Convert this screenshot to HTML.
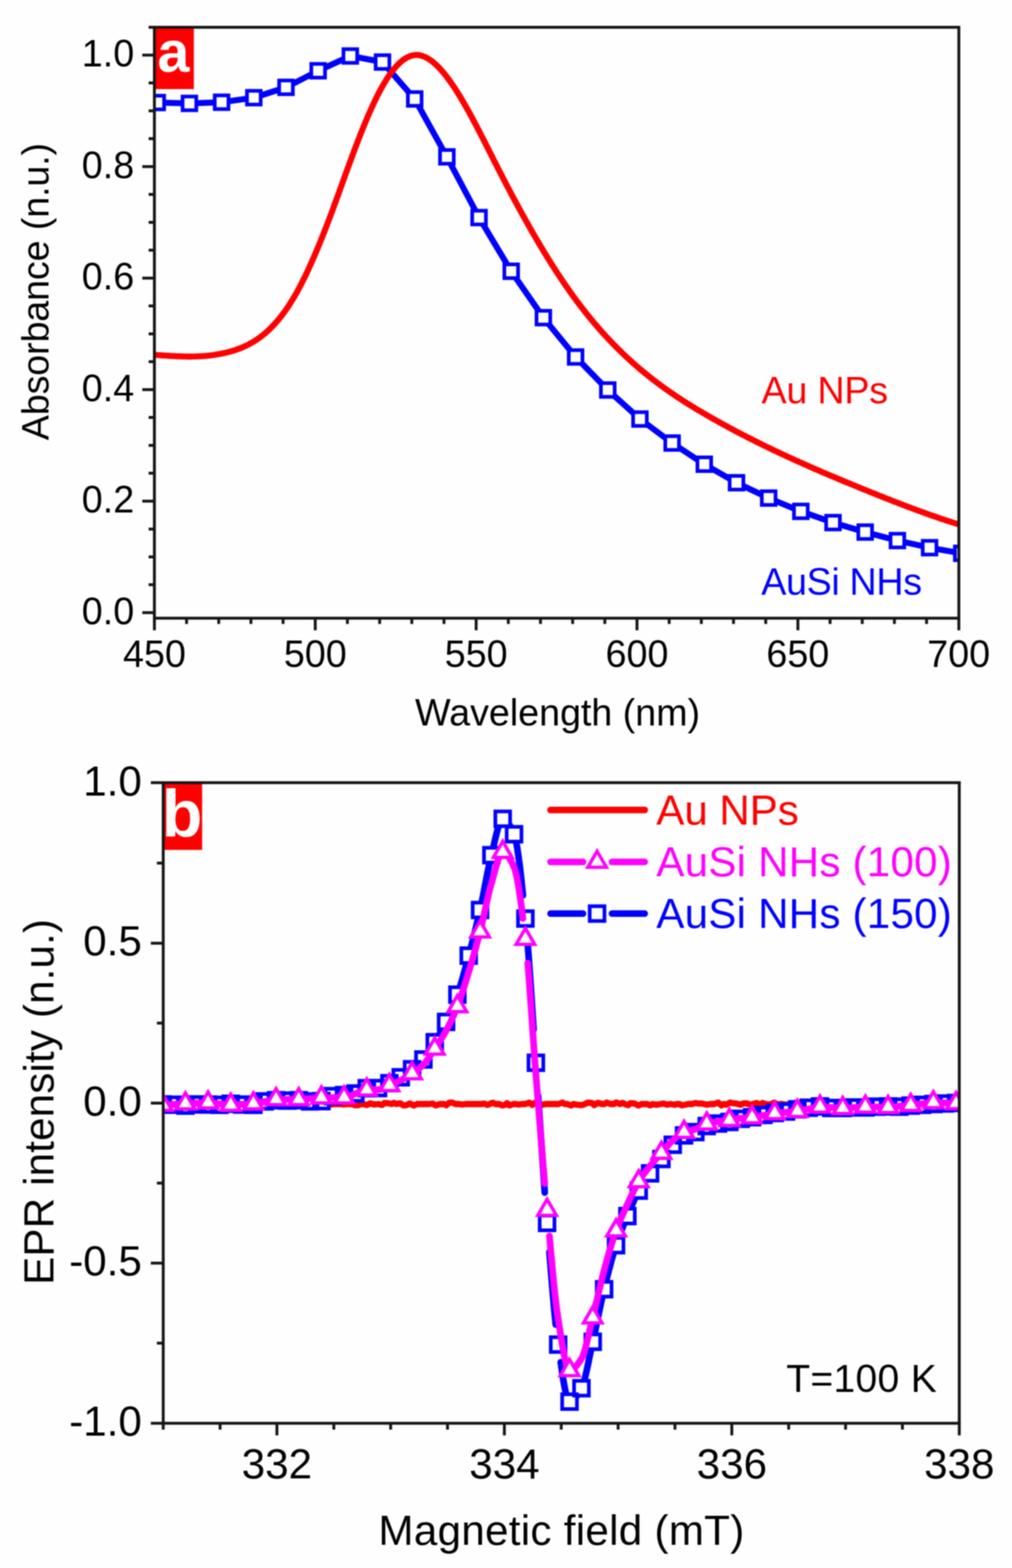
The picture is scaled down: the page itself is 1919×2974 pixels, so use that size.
<!DOCTYPE html>
<html lang="en"><head><meta charset="utf-8"><title>Absorbance and EPR spectra of Au NPs and AuSi NHs</title>
<style>
html,body{margin:0;padding:0;background:#fff;}
body{width:1919px;height:2974px;overflow:hidden;}
svg{display:block;}
svg text{font-family:"Liberation Sans", Arial, Helvetica, sans-serif;}
</style></head><body>
<svg xmlns="http://www.w3.org/2000/svg" width="1919" height="2974" viewBox="0 0 1919 2974">
<defs><filter id="soft" x="0" y="0" width="100%" height="100%" filterUnits="userSpaceOnUse" color-interpolation-filters="sRGB"><feGaussianBlur stdDeviation="1.3"/></filter></defs>
<rect x="0" y="0" width="1919" height="2974" fill="#fefefe"/>
<g filter="url(#soft)">
<defs>
<clipPath id="clipA"><rect x="292.8" y="51.8" width="1525.4" height="1120.8"/></clipPath>
</defs>
<g id="panel-a">
<g clip-path="url(#clipA)" fill="none" stroke-linejoin="round" stroke-linecap="butt">
<path d="M286,194.3 L298.2,194.5 L359.2,196.1 L420.2,193.9 L481.3,185.3 L542.3,165.7 L603.3,134.2 L664.3,106.2 L725.3,117.7 L786.4,187.7 L847.4,297.5 L908.4,412.7 L969.4,514.5 L1030.4,602.5 L1091.5,677.1 L1152.5,739.7 L1213.5,794.8 L1274.5,840.3 L1335.5,880.5 L1396.6,915.6 L1457.6,944.7 L1518.6,969.9 L1579.6,991.2 L1640.6,1009.2 L1701.7,1025.3 L1762.7,1038.8 L1823.7,1049.5" stroke="#0000ff" stroke-width="11.4"/>
<rect x="285.2" y="181.5" width="26.0" height="26.0" fill="#fff" stroke="#0000ff" stroke-width="7.0" stroke-linejoin="miter"/>
<rect x="346.2" y="183.1" width="26.0" height="26.0" fill="#fff" stroke="#0000ff" stroke-width="7.0" stroke-linejoin="miter"/>
<rect x="407.2" y="180.9" width="26.0" height="26.0" fill="#fff" stroke="#0000ff" stroke-width="7.0" stroke-linejoin="miter"/>
<rect x="468.3" y="172.3" width="26.0" height="26.0" fill="#fff" stroke="#0000ff" stroke-width="7.0" stroke-linejoin="miter"/>
<rect x="529.3" y="152.7" width="26.0" height="26.0" fill="#fff" stroke="#0000ff" stroke-width="7.0" stroke-linejoin="miter"/>
<rect x="590.3" y="121.2" width="26.0" height="26.0" fill="#fff" stroke="#0000ff" stroke-width="7.0" stroke-linejoin="miter"/>
<rect x="651.3" y="93.2" width="26.0" height="26.0" fill="#fff" stroke="#0000ff" stroke-width="7.0" stroke-linejoin="miter"/>
<rect x="712.3" y="104.7" width="26.0" height="26.0" fill="#fff" stroke="#0000ff" stroke-width="7.0" stroke-linejoin="miter"/>
<rect x="773.4" y="174.7" width="26.0" height="26.0" fill="#fff" stroke="#0000ff" stroke-width="7.0" stroke-linejoin="miter"/>
<rect x="834.4" y="284.5" width="26.0" height="26.0" fill="#fff" stroke="#0000ff" stroke-width="7.0" stroke-linejoin="miter"/>
<rect x="895.4" y="399.7" width="26.0" height="26.0" fill="#fff" stroke="#0000ff" stroke-width="7.0" stroke-linejoin="miter"/>
<rect x="956.4" y="501.5" width="26.0" height="26.0" fill="#fff" stroke="#0000ff" stroke-width="7.0" stroke-linejoin="miter"/>
<rect x="1017.4" y="589.5" width="26.0" height="26.0" fill="#fff" stroke="#0000ff" stroke-width="7.0" stroke-linejoin="miter"/>
<rect x="1078.5" y="664.1" width="26.0" height="26.0" fill="#fff" stroke="#0000ff" stroke-width="7.0" stroke-linejoin="miter"/>
<rect x="1139.5" y="726.7" width="26.0" height="26.0" fill="#fff" stroke="#0000ff" stroke-width="7.0" stroke-linejoin="miter"/>
<rect x="1200.5" y="781.8" width="26.0" height="26.0" fill="#fff" stroke="#0000ff" stroke-width="7.0" stroke-linejoin="miter"/>
<rect x="1261.5" y="827.3" width="26.0" height="26.0" fill="#fff" stroke="#0000ff" stroke-width="7.0" stroke-linejoin="miter"/>
<rect x="1322.5" y="867.5" width="26.0" height="26.0" fill="#fff" stroke="#0000ff" stroke-width="7.0" stroke-linejoin="miter"/>
<rect x="1383.6" y="902.6" width="26.0" height="26.0" fill="#fff" stroke="#0000ff" stroke-width="7.0" stroke-linejoin="miter"/>
<rect x="1444.6" y="931.7" width="26.0" height="26.0" fill="#fff" stroke="#0000ff" stroke-width="7.0" stroke-linejoin="miter"/>
<rect x="1505.6" y="956.9" width="26.0" height="26.0" fill="#fff" stroke="#0000ff" stroke-width="7.0" stroke-linejoin="miter"/>
<rect x="1566.6" y="978.2" width="26.0" height="26.0" fill="#fff" stroke="#0000ff" stroke-width="7.0" stroke-linejoin="miter"/>
<rect x="1627.6" y="996.2" width="26.0" height="26.0" fill="#fff" stroke="#0000ff" stroke-width="7.0" stroke-linejoin="miter"/>
<rect x="1688.7" y="1012.3" width="26.0" height="26.0" fill="#fff" stroke="#0000ff" stroke-width="7.0" stroke-linejoin="miter"/>
<rect x="1749.7" y="1025.8" width="26.0" height="26.0" fill="#fff" stroke="#0000ff" stroke-width="7.0" stroke-linejoin="miter"/>
<rect x="1810.7" y="1036.5" width="26.0" height="26.0" fill="#fff" stroke="#0000ff" stroke-width="7.0" stroke-linejoin="miter"/>
<path d="M286,672.5 L289,672.7 L292,672.9 L295,673.1 L298,673.4 L301,673.6 L304,673.8 L307,674 L310,674.2 L313,674.4 L316,674.6 L319,674.8 L322,675 L325,675.1 L328,675.3 L331,675.4 L334,675.6 L337,675.7 L340,675.8 L343,675.9 L346,676 L349,676.1 L352,676.1 L355,676.2 L358,676.2 L361,676.2 L364,676.2 L367,676.1 L370,676.1 L373,676 L376,675.9 L379,675.7 L382,675.6 L385,675.4 L388,675.1 L391,674.9 L394,674.6 L397,674.3 L400,673.9 L403,673.6 L406,673.2 L409,672.7 L412,672.2 L415,671.7 L418,671.1 L421,670.5 L424,669.9 L427,669.2 L430,668.5 L433,667.8 L436,666.9 L439,666.1 L442,665.2 L445,664.3 L448,663.3 L451,662.2 L454,661.1 L457,659.9 L460,658.7 L463,657.3 L466,656 L469,654.5 L472,653 L475,651.3 L478,649.6 L481,647.8 L484,646 L487,644 L490,641.9 L493,639.8 L496,637.5 L499,635.1 L502,632.7 L505,630.1 L508,627.4 L511,624.5 L514,621.6 L517,618.5 L520,615.4 L523,612 L526,608.6 L529,605 L532,601.3 L535,597.4 L538,593.4 L541,589.3 L544,585 L547,580.5 L550,575.9 L553,571.1 L556,566.2 L559,561.1 L562,555.9 L565,550.4 L568,544.9 L571,539.1 L574,533.2 L577,527.2 L580,521 L583,514.7 L586,508.2 L589,501.6 L592,494.9 L595,488 L598,481 L601,474 L604,466.7 L607,459.4 L610,452 L613,444.5 L616,436.9 L619,429.1 L622,421.3 L625,413.4 L628,405.4 L631,397.4 L634,389.2 L637,381 L640,372.8 L643,364.5 L646,356.2 L649,347.9 L652,339.6 L655,331.2 L658,323 L661,314.7 L664,306.5 L667,298.4 L670,290.3 L673,282.3 L676,274.4 L679,266.5 L682,258.8 L685,251.2 L688,243.7 L691,236.3 L694,229.1 L697,222 L700,215 L703,208.2 L706,201.6 L709,195.2 L712,188.9 L715,182.8 L718,176.9 L721,171.2 L724,165.7 L727,160.4 L730,155.4 L733,150.5 L736,145.9 L739,141.5 L742,137.4 L745,133.4 L748,129.8 L751,126.3 L754,123.1 L757,120.1 L760,117.4 L763,114.9 L766,112.7 L769,110.7 L772,109 L775,107.6 L778,106.4 L781,105.5 L784,104.8 L787,104.4 L790,104.3 L793,104.5 L796,104.9 L799,105.6 L802,106.5 L805,107.7 L808,109.1 L811,110.7 L814,112.6 L817,114.7 L820,116.9 L823,119.4 L826,122.1 L829,124.9 L832,127.9 L835,131.1 L838,134.5 L841,138 L844,141.7 L847,145.5 L850,149.5 L853,153.6 L856,157.9 L859,162.2 L862,166.7 L865,171.4 L868,176.1 L871,181 L874,185.9 L877,191 L880,196.1 L883,201.4 L886,206.7 L889,212.1 L892,217.6 L895,223.1 L898,228.7 L901,234.4 L904,240.1 L907,245.8 L910,251.6 L913,257.5 L916,263.3 L919,269.2 L922,275.1 L925,281 L928,287 L931,292.9 L934,298.9 L937,304.8 L940,310.7 L943,316.6 L946,322.5 L949,328.4 L952,334.2 L955,340 L958,345.8 L961,351.5 L964,357.2 L967,362.9 L970,368.6 L973,374.2 L976,379.8 L979,385.4 L982,391 L985,396.5 L988,401.9 L991,407.4 L994,412.8 L997,418.2 L1000,423.5 L1003,428.8 L1006,434.1 L1009,439.4 L1012,444.6 L1015,449.7 L1018,454.9 L1021,460 L1024,465 L1027,470.1 L1030,475 L1033,480 L1036,484.9 L1039,489.7 L1042,494.6 L1045,499.4 L1048,504.1 L1051,508.8 L1054,513.5 L1057,518.1 L1060,522.6 L1063,527.2 L1066,531.7 L1069,536.1 L1072,540.5 L1075,544.8 L1078,549.1 L1081,553.4 L1084,557.6 L1087,561.8 L1090,565.9 L1093,570 L1096,574 L1099,578 L1102,581.9 L1105,585.8 L1108,589.6 L1111,593.4 L1114,597.2 L1117,600.9 L1120,604.6 L1123,608.2 L1126,611.8 L1129,615.3 L1132,618.8 L1135,622.3 L1138,625.7 L1141,629.1 L1144,632.4 L1147,635.7 L1150,639 L1153,642.2 L1156,645.4 L1159,648.5 L1162,651.7 L1165,654.7 L1168,657.8 L1171,660.8 L1174,663.8 L1177,666.7 L1180,669.6 L1183,672.5 L1186,675.3 L1189,678.1 L1192,680.9 L1195,683.6 L1198,686.4 L1201,689 L1204,691.7 L1207,694.3 L1210,696.9 L1213,699.5 L1216,702 L1219,704.5 L1222,707 L1225,709.4 L1228,711.8 L1231,714.2 L1234,716.6 L1237,719 L1240,721.3 L1243,723.6 L1246,725.8 L1249,728.1 L1252,730.3 L1255,732.5 L1258,734.7 L1261,736.8 L1264,739 L1267,741.1 L1270,743.2 L1273,745.3 L1276,747.3 L1279,749.3 L1282,751.4 L1285,753.4 L1288,755.3 L1291,757.3 L1294,759.2 L1297,761.2 L1300,763.1 L1303,765 L1306,766.9 L1309,768.7 L1312,770.6 L1315,772.4 L1318,774.2 L1321,776.1 L1324,777.9 L1327,779.6 L1330,781.4 L1333,783.2 L1336,784.9 L1339,786.7 L1342,788.4 L1345,790.1 L1348,791.8 L1351,793.6 L1354,795.2 L1357,796.9 L1360,798.6 L1363,800.3 L1366,802 L1369,803.6 L1372,805.3 L1375,806.9 L1378,808.5 L1381,810.2 L1384,811.8 L1387,813.4 L1390,815 L1393,816.6 L1396,818.2 L1399,819.8 L1402,821.3 L1405,822.9 L1408,824.5 L1411,826 L1414,827.5 L1417,829.1 L1420,830.6 L1423,832.1 L1426,833.7 L1429,835.2 L1432,836.7 L1435,838.2 L1438,839.7 L1441,841.2 L1444,842.6 L1447,844.1 L1450,845.6 L1453,847 L1456,848.5 L1459,849.9 L1462,851.4 L1465,852.8 L1468,854.3 L1471,855.7 L1474,857.1 L1477,858.5 L1480,859.9 L1483,861.3 L1486,862.7 L1489,864.1 L1492,865.5 L1495,866.9 L1498,868.3 L1501,869.6 L1504,871 L1507,872.4 L1510,873.7 L1513,875.1 L1516,876.4 L1519,877.8 L1522,879.1 L1525,880.5 L1528,881.8 L1531,883.1 L1534,884.4 L1537,885.8 L1540,887.1 L1543,888.4 L1546,889.7 L1549,891 L1552,892.3 L1555,893.6 L1558,894.9 L1561,896.2 L1564,897.5 L1567,898.7 L1570,900 L1573,901.3 L1576,902.6 L1579,903.8 L1582,905.1 L1585,906.3 L1588,907.6 L1591,908.9 L1594,910.1 L1597,911.4 L1600,912.6 L1603,913.9 L1606,915.1 L1609,916.3 L1612,917.6 L1615,918.8 L1618,920 L1621,921.3 L1624,922.5 L1627,923.7 L1630,924.9 L1633,926.2 L1636,927.4 L1639,928.6 L1642,929.8 L1645,931 L1648,932.2 L1651,933.5 L1654,934.7 L1657,935.9 L1660,937.1 L1663,938.3 L1666,939.5 L1669,940.7 L1672,941.9 L1675,943.1 L1678,944.3 L1681,945.5 L1684,946.6 L1687,947.8 L1690,949 L1693,950.2 L1696,951.4 L1699,952.5 L1702,953.7 L1705,954.8 L1708,956 L1711,957.2 L1714,958.3 L1717,959.5 L1720,960.6 L1723,961.7 L1726,962.9 L1729,964 L1732,965.1 L1735,966.2 L1738,967.3 L1741,968.4 L1744,969.5 L1747,970.6 L1750,971.7 L1753,972.8 L1756,973.9 L1759,975 L1762,976 L1765,977.1 L1768,978.1 L1771,979.2 L1774,980.2 L1777,981.2 L1780,982.3 L1783,983.3 L1786,984.3 L1789,985.3 L1792,986.3 L1795,987.3 L1798,988.2 L1801,989.2 L1804,990.2 L1807,991.1 L1810,992.1 L1813,993 L1816,993.9 L1819,994.8 L1822,995.7 L1825,996.6" stroke="#ff0000" stroke-width="11.4"/>
</g>
<rect x="292" y="50" width="75.6" height="119" fill="#ff0000"/>
<text x="298.4" y="136.2" font-size="109" text-anchor="start" fill="#fff" font-weight="bold">a</text>
<g stroke="#161616" stroke-width="5.5" fill="none" stroke-linecap="butt">
<path d="M281.8,51.8 H1820.7"/>
<path d="M290.3,1172.6 H1820.7"/>
<path d="M292.8,49.3 V1195.6"/>
<path d="M1818.2,49.3 V1195.6"/>
<path d="M292.8,1162 H269.8 M292.8,1109.1 H281.8 M292.8,1056.2 H281.8 M292.8,1003.4 H281.8 M292.8,950.5 H269.8 M292.8,897.6 H281.8 M292.8,844.7 H281.8 M292.8,791.8 H281.8 M292.8,739 H269.8 M292.8,686.1 H281.8 M292.8,633.2 H281.8 M292.8,580.3 H281.8 M292.8,527.4 H269.8 M292.8,474.6 H281.8 M292.8,421.7 H281.8 M292.8,368.8 H281.8 M292.8,315.9 H269.8 M292.8,263 H281.8 M292.8,210.2 H281.8 M292.8,157.3 H281.8 M292.8,104.4 H269.8"/>
<path d="M353.8,1172.6 V1183.6 M414.8,1172.6 V1183.6 M475.8,1172.6 V1183.6 M536.8,1172.6 V1183.6 M597.8,1172.6 V1195.6 M658.8,1172.6 V1183.6 M719.9,1172.6 V1183.6 M780.9,1172.6 V1183.6 M841.9,1172.6 V1183.6 M902.9,1172.6 V1195.6 M963.9,1172.6 V1183.6 M1024.9,1172.6 V1183.6 M1085.9,1172.6 V1183.6 M1146.9,1172.6 V1183.6 M1207.9,1172.6 V1195.6 M1268.9,1172.6 V1183.6 M1329.9,1172.6 V1183.6 M1390.9,1172.6 V1183.6 M1452,1172.6 V1183.6 M1513,1172.6 V1195.6 M1574,1172.6 V1183.6 M1635,1172.6 V1183.6 M1696,1172.6 V1183.6 M1757,1172.6 V1183.6"/>
</g>
<g font-size="71.5" fill="#000">
<text x="254.5" y="1183.8" text-anchor="end">0.0</text>
<text x="254.5" y="972.3" text-anchor="end">0.2</text>
<text x="254.5" y="760.8" text-anchor="end">0.4</text>
<text x="254.5" y="549.2" text-anchor="end">0.6</text>
<text x="254.5" y="337.7" text-anchor="end">0.8</text>
<text x="254.5" y="126.2" text-anchor="end">1.0</text>
<text x="292.8" y="1265" text-anchor="middle">450</text>
<text x="597.8" y="1265" text-anchor="middle">500</text>
<text x="902.9" y="1265" text-anchor="middle">550</text>
<text x="1207.9" y="1265" text-anchor="middle">600</text>
<text x="1513" y="1265" text-anchor="middle">650</text>
<text x="1818" y="1265" text-anchor="middle">700</text>
<text id="a_xt" x="787" y="1375.5" text-anchor="start" textLength="540.45" lengthAdjust="spacing">Wavelength (nm)</text>
<text id="a_yt" transform="translate(92,835) rotate(-90)" text-anchor="start" textLength="563.88" lengthAdjust="spacing">Absorbance (n.u.)</text>
<text id="a_l1" x="1444" y="765.4" text-anchor="start" fill="#ff0000" textLength="240.01" lengthAdjust="spacing">Au NPs</text>
<text id="a_l2" x="1443.5" y="1128" text-anchor="start" fill="#0000ff" textLength="304.89" lengthAdjust="spacing">AuSi NHs</text>
</g>
</g>
<defs><clipPath id="clipB"><rect x="309.5" y="1484.6" width="1509.5" height="1214.8"/></clipPath></defs>
<g id="panel-b">
<g clip-path="url(#clipB)" fill="none" stroke-linejoin="round" stroke-linecap="round">
<path d="M300,2092.8 L304.5,2094 L310.5,2095.2 L318,2091.1 L324,2094 L328.5,2095.1 L336,2094 L340.5,2092.8 L348,2094 L355.5,2095.6 L363,2092 L367.5,2096.8 L373.5,2094 L379.5,2095.3 L385.5,2094 L393,2094 L397.5,2094 L402,2094 L409.5,2094 L415.5,2094 L421.5,2094 L429,2094 L435,2095.4 L439.5,2095.9 L447,2095.3 L454.5,2096 L462,2094 L469.5,2094.9 L477,2094 L481.5,2094 L487.5,2092 L492,2094 L496.5,2094 L502.5,2095.7 L510,2094 L516,2095.2 L523.5,2094 L528,2094 L532.5,2094 L537,2094 L543,2092.7 L549,2094 L553.5,2096.1 L559.5,2096.3 L567,2096.4 L574.5,2091.6 L582,2094 L589.5,2094.9 L595.5,2094 L603,2094 L607.5,2096.1 L615,2094 L622.5,2094 L627,2095.2 L633,2094 L639,2094 L646.5,2094 L651,2094.8 L657,2094 L663,2094 L667.5,2094 L673.5,2096.4 L679.5,2096.1 L684,2094 L688.5,2094 L696,2095.9 L702,2092.7 L709.5,2094.8 L717,2094 L724.5,2095.8 L729,2092 L736.5,2092.6 L742.5,2094 L747,2091.7 L751.5,2094 L759,2092.6 L765,2096.7 L769.5,2096.4 L777,2092.9 L784.5,2096.8 L790.5,2094 L796.5,2094 L801,2094 L805.5,2094 L813,2094 L820.5,2093.2 L826.5,2096.6 L834,2094 L841.5,2094 L846,2096.4 L852,2091.3 L856.5,2091.1 L864,2094 L870,2094 L876,2094.8 L883.5,2094 L888,2094 L892.5,2094 L897,2094 L904.5,2094 L909,2094 L913.5,2094 L918,2093.1 L924,2095.7 L928.5,2094 L934.5,2091.4 L939,2094 L946.5,2094 L952.5,2096.7 L957,2095.7 L961.5,2092.4 L966,2096.6 L973.5,2094 L978,2094 L984,2095 L990,2094 L996,2094 L1003.5,2091.4 L1009.5,2095.6 L1014,2091.9 L1021.5,2095.3 L1027.5,2095.4 L1035,2094 L1042.5,2094 L1048.5,2094 L1054.5,2094 L1059,2094 L1066.5,2091.3 L1071,2094 L1075.5,2094 L1083,2096.8 L1087.5,2094 L1095,2095.4 L1102.5,2096.1 L1107,2095 L1114.5,2091.3 L1122,2091.8 L1126.5,2096.1 L1134,2091.7 L1141.5,2094 L1146,2094 L1150.5,2091.2 L1158,2094 L1164,2094 L1168.5,2091 L1176,2094 L1180.5,2091.7 L1185,2094 L1191,2096.3 L1195.5,2092.5 L1203,2092.9 L1210.5,2096.9 L1216.5,2094 L1222.5,2094 L1227,2094 L1233,2096.6 L1237.5,2094 L1245,2095.4 L1252.5,2094 L1258.5,2093.1 L1264.5,2095.1 L1272,2094 L1279.5,2095.4 L1284,2094 L1288.5,2094 L1293,2096.5 L1299,2095.3 L1305,2094 L1312.5,2094 L1318.5,2092.1 L1324.5,2093.1 L1330.5,2093 L1335,2094 L1341,2095.2 L1347,2094 L1354.5,2094 L1362,2091.2 L1368,2096.6 L1372.5,2094 L1377,2095.3 L1384.5,2091.1 L1390.5,2092.6 L1396.5,2093.1 L1404,2095.4 L1410,2092.6 L1416,2092.9 L1423.5,2095.6 L1428,2094 L1434,2092 L1441.5,2095.3 L1446,2092 L1452,2094 L1456.5,2095.2 L1462.5,2094 L1468.5,2091.2 L1473,2095.1 L1479,2094 L1483.5,2094 L1489.5,2095.3 L1495.5,2094 L1503,2095.5 L1509,2091.4 L1515,2095.2 L1522.5,2091.5 L1530,2094 L1536,2095.3 L1543.5,2092.8 L1551,2094.9 L1557,2095.1 L1561.5,2094 L1567.5,2095.3 L1575,2094 L1582.5,2092.9 L1588.5,2095.8 L1593,2091.4 L1600.5,2094 L1606.5,2094 L1612.5,2094 L1617,2091.8 L1623,2092.7 L1630.5,2094 L1636.5,2094 L1641,2094 L1645.5,2093 L1650,2094.8 L1657.5,2092.2 L1662,2094 L1669.5,2094 L1677,2092.8 L1681.5,2096.1 L1686,2094 L1693.5,2093.1 L1699.5,2094 L1704,2096.7 L1710,2096.1 L1717.5,2094 L1723.5,2094 L1729.5,2096.5 L1734,2094 L1741.5,2092.3 L1749,2092.9 L1756.5,2095.1 L1761,2096.3 L1765.5,2096.3 L1773,2094 L1779,2095.4 L1783.5,2094 L1791,2092.5 L1798.5,2092.9 L1804.5,2094 L1810.5,2094 L1816.5,2095.3 L1821,2096.8 L1825.5,2094.8" stroke="#ff0000" stroke-width="11.799999999999999"/>
<path d="M316.4,2094.9 L318.4,2094.9 L320.3,2095 L322.3,2095 M337.9,2095.8 L339.8,2096.1 L341.8,2096.3 L343.8,2096.4 M359.4,2096.3 L361.3,2096 L363.3,2095.7 L365.3,2095.5 M380.9,2094.9 L382.8,2094.9 L384.8,2094.9 L386.8,2094.9 M402.4,2095.2 L404.3,2095.2 L406.3,2095.3 L408.3,2095.3 M423.8,2094.9 L425.8,2094.6 L427.8,2094.4 L429.7,2094.1 M445.3,2094 L447.3,2094.1 L449.3,2094.3 L451.2,2094.5 M466.8,2095.3 L468.8,2095.4 L470.8,2095.4 L472.7,2095.5 M488.3,2093.9 L489.8,2093.3 L491.3,2092.6 L492.9,2092 L494.4,2091.3 M509.7,2087.8 L511.7,2087.5 L513.7,2087.3 L515.7,2087.1 M531.3,2086.9 L533.3,2087 L535.2,2087.1 L537.2,2087.2 M552.8,2087.2 L554.8,2087.1 L556.7,2087 L558.7,2086.9 M574.3,2087.4 L576.2,2087.7 L578.2,2088 L580.2,2088.3 M595.8,2088.9 L597.7,2088.9 L599.7,2088.9 L601.7,2088.8 M617.2,2086 L618.7,2085.1 L620.3,2084.1 L621.8,2083.1 L623.4,2082.2 M638.7,2078.1 L640.7,2078 L642.7,2077.8 L644.7,2077.7 M660.2,2076.1 L661.7,2076 L663.2,2075.8 L664.7,2075.6 L666.2,2075.4 M681.4,2070.6 L683,2069.6 L684.6,2068.6 L686.1,2067.6 L687.7,2066.7 M703.2,2064 L705.2,2064 L707.1,2063.9 L709.1,2063.9 M724.7,2061.8 L726.3,2061 L728,2060.1 L729.6,2059.2 L731.3,2058.3 M745.6,2051 L747.4,2050 L749.3,2049.1 L751.1,2048.2 L752.9,2047.2 M766.7,2038.9 L768.4,2037.7 L770,2036.6 L771.6,2035.4 L773.3,2034.2 L774.9,2033 M787.9,2023 L789.4,2021.8 L790.9,2020.6 L792.4,2019.4 L794,2018.1 L795.5,2016.7 L797,2015.4 M808.4,2002.5 L810,2000.1 L811.6,1997.7 L813.2,1995.2 L814.8,1992.6 L816.4,1990 L818,1987.3 L819.6,1984.6 M829.1,1968.8 L830.7,1966.2 L832.2,1963.6 L833.8,1960.9 L835.3,1958.2 L836.9,1955.4 L838.4,1952.6 L840,1949.8 L841.5,1946.8 M850.1,1929.4 L851.6,1926.1 L853.1,1922.7 L854.6,1919.2 L856.1,1915.6 L857.6,1912 L859.2,1908.3 L860.7,1904.4 L862.2,1900.5 L863.7,1896.5 M870.9,1876 L872.5,1870.8 L874.2,1865.4 L875.8,1859.8 L877.5,1854.1 L879.1,1848.3 L880.7,1842.4 L882.4,1836.4 L884,1830.3 L885.7,1824.2 M892,1800.9 L893.5,1795 L895,1789 L896.6,1783 L898.1,1776.9 L899.7,1770.7 L901.2,1764.5 L902.8,1758.1 L904.3,1751.7 L905.9,1745.2 L907.4,1738.7 M913.1,1712.9 L914.7,1705.2 L916.3,1697.3 L917.9,1689.3 L919.4,1681.1 L921,1672.9 L922.6,1664.8 L924.1,1656.8 L925.7,1649 L927.3,1641.5 L928.8,1634.4 M934.8,1609.8 L936.5,1602.4 L938.2,1595 L939.9,1587.7 L941.7,1580.6 L943.4,1574 L945.1,1568 L946.8,1562.8 M960.9,1557.4 L962.6,1559.4 L964.2,1561.6 L965.8,1564.2 L967.4,1567 L969.1,1570 L970.7,1573.3 M978.1,1593.6 L979.6,1601.2 L981.1,1610.1 L982.6,1620.2 L984.1,1631.4 L985.7,1643.4 L987.2,1656.3 L988.7,1669.8 L990.2,1683.8 L991.7,1698.2 M1000.7,1791.8 L1002.3,1812.6 L1003.9,1834.5 L1005.5,1857.2 L1007.1,1880.7 L1008.7,1904.6 L1010.3,1928.6 L1011.9,1952.7 M1020.5,2078.2 L1022.1,2101.4 L1023.7,2124.7 L1025.2,2148.2 L1026.8,2171.5 L1028.3,2194.7 L1029.9,2217.5 L1031.5,2240 L1033,2261.9 M1041.8,2374.7 L1043.3,2393.5 L1044.8,2412.1 L1046.3,2430.4 L1047.8,2448.2 L1049.3,2465.5 L1050.8,2482 L1052.3,2497.7 L1053.8,2512.4 M1063.2,2583.8 L1064.8,2594.7 L1066.3,2605.3 L1067.9,2615.4 L1069.5,2624.8 L1071.1,2633.3 L1072.7,2640.9 L1074.2,2647.3 M1087.7,2654.8 L1089.4,2653.1 L1091.1,2651.1 L1092.8,2648.8 L1094.5,2646.4 L1096.3,2643.8 L1098,2641 M1106.5,2623 L1108.2,2617.4 L1109.8,2611.2 L1111.4,2604.3 L1113,2597.1 L1114.7,2589.4 L1116.3,2581.6 L1117.9,2573.7 L1119.5,2565.8 L1121.2,2558 M1126.9,2532.2 L1128.5,2524.8 L1130,2517.4 L1131.6,2509.8 L1133.2,2502.3 L1134.8,2494.7 L1136.3,2487.1 L1137.9,2479.6 L1139.5,2472.2 L1141.1,2464.9 L1142.7,2457.8 M1148.6,2433.1 L1150.2,2426.5 L1151.8,2420.1 L1153.5,2413.7 L1155.1,2407.4 L1156.7,2401.3 L1158.3,2395.2 L1159.9,2389.3 L1161.6,2383.6 L1163.2,2378 L1164.8,2372.6 M1171.7,2351.5 L1173.3,2347.2 L1174.9,2343 L1176.4,2339 L1178,2335 L1179.5,2331.1 L1181.1,2327.2 L1182.6,2323.5 L1184.2,2319.7 L1185.8,2316 M1193.6,2297.2 L1195.2,2293.2 L1196.9,2289.2 L1198.5,2285.3 L1200.2,2281.4 L1201.8,2277.6 L1203.5,2273.9 L1205.1,2270.3 L1206.8,2266.8 M1215.8,2250.2 L1217.5,2247.5 L1219.1,2244.9 L1220.8,2242.4 L1222.5,2239.9 L1224.1,2237.4 L1225.8,2235.1 L1227.5,2232.7 M1237.9,2218.5 L1239.5,2216.5 L1241,2214.6 L1242.5,2212.7 L1244.1,2210.7 L1245.6,2208.8 L1247.2,2206.9 L1248.7,2205.1 M1259.5,2191.3 L1261.2,2189 L1263,2186.7 L1264.7,2184.4 L1266.4,2182.1 L1268.1,2179.9 L1269.8,2177.8 M1281.6,2165.3 L1283.3,2163.7 L1285,2162.1 L1286.7,2160.6 L1288.3,2159.1 L1290,2157.8 M1304.5,2151 L1306.2,2150.6 L1307.8,2150.2 L1309.5,2149.8 L1311.2,2149.4 M1325.9,2143.5 L1327.6,2142.4 L1329.3,2141.4 L1331,2140.3 L1332.8,2139.3 M1347.7,2133.7 L1349.2,2133.4 L1350.8,2133 L1352.3,2132.7 L1353.9,2132.4 M1369.3,2129.9 L1370.8,2129.7 L1372.4,2129.5 L1373.9,2129.4 L1375.4,2129.2 M1390.7,2126 L1392.3,2125.5 L1393.8,2125 L1395.4,2124.5 L1396.9,2124 M1412.3,2120.8 L1413.8,2120.6 L1415.3,2120.4 L1416.8,2120.3 L1418.4,2120.1 M1433.8,2117.5 L1435.3,2117.2 L1436.8,2116.9 L1438.4,2116.6 L1439.9,2116.3 M1455.3,2113.3 L1456.8,2113 L1458.3,2112.8 L1459.8,2112.5 L1461.3,2112.2 M1476.8,2110 L1478.3,2109.8 L1479.8,2109.6 L1481.3,2109.4 L1482.8,2109.3 M1498.3,2106.8 L1499.8,2106.4 L1501.3,2106.1 L1502.8,2105.8 L1504.3,2105.5 M1519.8,2102.8 L1521.3,2102.6 L1522.8,2102.4 L1524.3,2102.2 L1525.8,2102 M1541.3,2099.9 L1543.3,2099.6 L1545.2,2099.3 L1547.2,2099 M1562.8,2099.4 L1564.8,2099.8 L1566.7,2100.2 L1568.7,2100.6 M1584.3,2101.5 L1586.3,2101.5 L1588.2,2101.5 L1590.2,2101.5 M1605.8,2101.2 L1607.8,2101.1 L1609.7,2100.9 L1611.7,2100.8 M1627.3,2100.4 L1629.3,2100.4 L1631.2,2100.4 L1633.2,2100.4 M1648.8,2100 L1650.7,2099.8 L1652.7,2099.6 L1654.7,2099.4 M1670.3,2098.7 L1672.2,2098.6 L1674.2,2098.6 L1676.2,2098.5 M1691.8,2098.6 L1693.7,2098.7 L1695.7,2098.8 L1697.7,2098.8 M1713.2,2098.5 L1715.2,2098.3 L1717.2,2098.1 L1719.2,2097.8 M1734.7,2096.4 L1736.7,2096.3 L1738.7,2096.2 L1740.6,2096 M1756.2,2094.9 L1758.2,2094.8 L1760.2,2094.6 L1762.1,2094.5 M1777.7,2093.6 L1779.7,2093.5 L1781.6,2093.4 L1783.6,2093.3 M1799.2,2092.6 L1801.2,2092.5 L1803.1,2092.5 L1805.1,2092.4" stroke="#0000ff" stroke-width="12.6"/>
<path d="M294.6,2080.8h28.0v28.0h-28.0zM316.1,2081.3h28.0v28.0h-28.0zM337.6,2082.9h28.0v28.0h-28.0zM359.1,2080.8h28.0v28.0h-28.0zM380.6,2081h28.0v28.0h-28.0zM402.1,2081.4h28.0v28.0h-28.0zM423.5,2079.6h28.0v28.0h-28.0zM445,2081.1h28.0v28.0h-28.0zM466.5,2081.6h28.0v28.0h-28.0zM488,2074.9h28.0v28.0h-28.0zM509.5,2072.7h28.0v28.0h-28.0zM531,2073.4h28.0v28.0h-28.0zM552.5,2072.7h28.0v28.0h-28.0zM574,2075h28.0v28.0h-28.0zM595.5,2074.6h28.0v28.0h-28.0zM617,2065h28.0v28.0h-28.0zM638.4,2063h28.0v28.0h-28.0zM659.9,2060h28.0v28.0h-28.0zM681.4,2050.1h28.0v28.0h-28.0zM702.9,2049.8h28.0v28.0h-28.0zM724.4,2040.4h28.0v28.0h-28.0zM745.9,2029.3h28.0v28.0h-28.0zM767.4,2014h28.0v28.0h-28.0zM788.9,1995.5h28.0v28.0h-28.0zM810.4,1962.7h28.0v28.0h-28.0zM831.9,1924.3h28.0v28.0h-28.0zM853.3,1872.5h28.0v28.0h-28.0zM874.8,1798.6h28.0v28.0h-28.0zM896.3,1712h28.0v28.0h-28.0zM917.8,1608h28.0v28.0h-28.0zM939.3,1539h28.0v28.0h-28.0zM960.8,1568.2h28.0v28.0h-28.0zM982.3,1728.3h28.0v28.0h-28.0zM1002.2,2001.7h28.0v28.0h-28.0zM1023.4,2305.4h28.0v28.0h-28.0zM1044.4,2536.2h28.0v28.0h-28.0zM1066,2644.6h28.0v28.0h-28.0zM1088.6,2619h28.0v28.0h-28.0zM1110,2531h28.0v28.0h-28.0zM1131.6,2431.3h28.0v28.0h-28.0zM1154.2,2347.8h28.0v28.0h-28.0zM1175.7,2292.6h28.0v28.0h-28.0zM1197.2,2244.2h28.0v28.0h-28.0zM1218.7,2211.5h28.0v28.0h-28.0zM1240.2,2184.3h28.0v28.0h-28.0zM1261.7,2157.3h28.0v28.0h-28.0zM1283.1,2139.4h28.0v28.0h-28.0zM1304.6,2133.2h28.0v28.0h-28.0zM1326.1,2121.8h28.0v28.0h-28.0zM1347.6,2117h28.0v28.0h-28.0zM1369.1,2114h28.0v28.0h-28.0zM1390.6,2108h28.0v28.0h-28.0zM1412.1,2105h28.0v28.0h-28.0zM1433.6,2100.7h28.0v28.0h-28.0zM1455.1,2097h28.0v28.0h-28.0zM1476.5,2094.2h28.0v28.0h-28.0zM1498,2090h28.0v28.0h-28.0zM1519.5,2087h28.0v28.0h-28.0zM1541,2084.5h28.0v28.0h-28.0zM1562.5,2087.5h28.0v28.0h-28.0zM1584,2087.5h28.0v28.0h-28.0zM1605.5,2086.5h28.0v28.0h-28.0zM1627,2086.4h28.0v28.0h-28.0zM1648.5,2084.9h28.0v28.0h-28.0zM1670,2084.4h28.0v28.0h-28.0zM1691.4,2085h28.0v28.0h-28.0zM1712.9,2083h28.0v28.0h-28.0zM1734.4,2081.5h28.0v28.0h-28.0zM1755.9,2080h28.0v28.0h-28.0zM1777.4,2079h28.0v28.0h-28.0zM1798.9,2078h28.0v28.0h-28.0z" fill="#fff" stroke="#0000ff" stroke-width="7.0" stroke-linejoin="miter"/>
<path d="M316.4,2095.3 L317.9,2095.2 L319.4,2095.1 L321,2095.1 L322.5,2095 L324,2094.9 L325.5,2094.8 L327,2094.7 L328.6,2094.6 L330.1,2094.5 L331.6,2094.4 L333.1,2094.3 L334.7,2094.2 L336.2,2094.1 L337.7,2094 L339.2,2093.9 L340.7,2093.8 L342.3,2093.7 L343.8,2093.6 M359.4,2092.8 L360.9,2092.8 L362.4,2092.7 L363.9,2092.7 L365.5,2092.6 L367,2092.5 L368.5,2092.5 L370,2092.4 L371.5,2092.4 L373.1,2092.3 L374.6,2092.2 L376.1,2092.2 L377.6,2092.1 L379.2,2092 L380.7,2091.9 L382.2,2091.8 L383.7,2091.7 L385.2,2091.7 L386.8,2091.6 M402.4,2091.9 L403.9,2092 L405.4,2092.2 L406.9,2092.4 L408.4,2092.6 L410,2092.9 L411.5,2093.1 L413,2093.3 L414.5,2093.4 L416.1,2093.6 L417.6,2093.8 L419.1,2093.9 L420.6,2094.1 L422.1,2094.3 L423.7,2094.6 L425.2,2094.8 L426.7,2095 L428.2,2095.2 L429.7,2095.3 M445.3,2095.5 L446.9,2095.4 L448.4,2095.3 L449.9,2095.2 L451.4,2095.1 L453,2094.9 L454.5,2094.8 L456,2094.7 L457.5,2094.6 L459,2094.5 L460.6,2094.4 L462.1,2094.3 L463.6,2094.2 L465.1,2094.2 L466.7,2094.1 L468.2,2094 L469.7,2093.9 L471.2,2093.9 L472.7,2093.8 M488.3,2092.1 L489.8,2091.8 L491.3,2091.4 L492.8,2091.1 L494.4,2090.8 L495.9,2090.5 L497.4,2090.1 L498.9,2089.8 L500.5,2089.5 L502,2089.2 L503.5,2088.9 L505,2088.6 L506.6,2088.2 L508.1,2087.8 L509.6,2087.5 L511.1,2087.1 L512.7,2086.7 L514.2,2086.4 L515.7,2086.1 M531.3,2085.2 L532.8,2085.2 L534.3,2085.2 L535.9,2085.2 L537.4,2085.2 L538.9,2085.2 L540.4,2085.2 L541.9,2085.2 L543.5,2085.2 L545,2085.2 L546.5,2085.2 L548,2085.2 L549.6,2085.2 L551.1,2085.2 L552.6,2085.2 L554.1,2085.2 L555.6,2085.2 L557.2,2085.2 L558.7,2085.2 M574.3,2084.8 L575.8,2084.7 L577.3,2084.6 L578.8,2084.4 L580.4,2084.3 L581.9,2084.1 L583.4,2084 L584.9,2083.8 L586.4,2083.7 L588,2083.5 L589.5,2083.4 L591,2083.3 L592.5,2083.1 L594.1,2083 L595.6,2082.8 L597.1,2082.7 L598.6,2082.5 L600.1,2082.4 L601.7,2082.3 M617.3,2081.9 L618.8,2081.9 L620.3,2081.9 L621.8,2081.9 L623.3,2081.9 L624.9,2081.9 L626.4,2081.9 L627.9,2081.9 L629.4,2081.9 L631,2081.8 L632.5,2081.8 L634,2081.8 L635.5,2081.8 L637,2081.8 L638.6,2081.8 L640.1,2081.8 L641.6,2081.8 L643.1,2081.8 L644.6,2081.8 M660.2,2080.2 L661.7,2079.6 L663.3,2079 L664.8,2078.3 L666.3,2077.6 L667.8,2076.9 L669.4,2076.2 L670.9,2075.5 L672.4,2074.9 L673.9,2074.3 L675.5,2073.8 L677,2073.2 L678.5,2072.5 L680,2071.8 L681.6,2071.1 L683.1,2070.4 L684.6,2069.8 L686.1,2069.1 L687.7,2068.5 M703.2,2066.8 L704.8,2066.8 L706.3,2066.8 L707.9,2066.8 L709.4,2066.8 L711,2066.8 L712.5,2066.8 L714.1,2066.8 L715.6,2066.7 L717.2,2066.7 L718.7,2066.6 L720.3,2066.3 L721.8,2065.9 L723.4,2065.4 L725,2064.8 L726.5,2064.2 L728.1,2063.4 L729.6,2062.7 L731.2,2061.9 M745.7,2055.4 L747.2,2054.7 L748.8,2054.1 L750.3,2053.4 L751.8,2052.8 L753.3,2052.1 L754.9,2051.4 L756.4,2050.7 L757.9,2049.9 L759.4,2049.2 L760.9,2048.4 L762.5,2047.6 L764,2046.8 L765.5,2045.9 L767,2045.1 L768.6,2044.2 L770.1,2043.3 L771.6,2042.3 L773.1,2041.4 L774.6,2040.4 M788.1,2031.4 L789.7,2030.3 L791.2,2029.1 L792.8,2027.9 L794.3,2026.7 L795.9,2025.5 L797.5,2024.2 L799,2022.8 L800.6,2021.4 L802.2,2019.9 L803.7,2018.3 L805.3,2016.6 L806.9,2014.7 L808.4,2012.7 L810,2010.7 L811.6,2008.5 L813.1,2006.3 L814.7,2004 L816.3,2001.6 L817.8,1999.2 L819.4,1996.8 M829.4,1981.8 L830.9,1979.5 L832.5,1977.1 L834,1974.8 L835.6,1972.3 L837.1,1969.9 L838.7,1967.4 L840.2,1964.8 L841.8,1962.2 L843.3,1959.5 L844.9,1956.8 L846.4,1953.9 L848,1951 L849.5,1948.1 L851.1,1945.1 L852.6,1942 L854.2,1938.8 L855.7,1935.6 L857.3,1932.2 L858.8,1928.8 L860.4,1925.4 L861.9,1921.8 L863.5,1918.2 M871.1,1898.8 L872.6,1894.5 L874.1,1890.2 L875.6,1885.7 L877.1,1881.1 L878.6,1876.4 L880.1,1871.7 L881.6,1866.8 L883.1,1862 L884.6,1857.1 L886.1,1852.2 L887.6,1847.2 L889.2,1842.3 L890.7,1837.3 L892.2,1832.3 L893.7,1827.2 L895.2,1822.1 L896.7,1816.9 L898.2,1811.6 L899.7,1806.3 L901.2,1801 L902.7,1795.5 L904.2,1790 L905.7,1784.5 L907.2,1778.8 M913.3,1754.8 L914.8,1748.3 L916.3,1741.5 L917.9,1734.7 L919.4,1727.8 L920.9,1720.9 L922.4,1714.1 L923.9,1707.3 L925.4,1700.7 L926.9,1694.3 L928.4,1688.2 L929.9,1682.4 L931.4,1677 L933,1671.8 L934.5,1666.4 L936,1660.8 L937.5,1655.1 L939,1649.5 L940.5,1644 L942,1638.7 L943.5,1633.7 L945,1629.1 L946.6,1625.1 M960.9,1620.5 L962.5,1622.3 L964,1624.4 L965.5,1626.8 L967.1,1629.4 L968.6,1632.2 L970.1,1635.1 L971.7,1638.3 L973.2,1641.5 L974.7,1644.9 L976.3,1648.9 L977.8,1654.1 L979.3,1660.5 L980.9,1668 L982.4,1676.4 L983.9,1685.6 L985.5,1695.7 L987,1706.4 L988.5,1717.8 L990.1,1729.7 L991.6,1742 M1000.7,1826.9 L1002.3,1845.8 L1003.8,1865.9 L1005.3,1886.8 L1006.9,1908.4 L1008.4,1930.4 L1009.9,1952.4 L1011.5,1974.3 L1013,1995.8 L1014.5,2016.6 L1016.1,2036.4 L1017.6,2055.6 L1019.1,2074.9 L1020.7,2094.3 L1022.2,2113.6 L1023.7,2132.9 L1025.3,2152 L1026.8,2171.1 L1028.4,2189.9 L1029.9,2208.5 L1031.4,2226.9 L1033,2244.9 M1041.9,2344.4 L1043.4,2361.5 L1044.9,2378.4 L1046.5,2395.1 L1048,2411.3 L1049.5,2427.1 L1051,2442.2 L1052.6,2456.5 L1054.1,2469.9 L1055.6,2482.2 L1057.2,2493.4 L1058.7,2503.3 L1060.2,2513 L1061.8,2522.7 L1063.3,2532.3 L1064.8,2541.9 L1066.3,2551.1 L1067.9,2559.8 L1069.4,2568.1 L1070.9,2575.6 L1072.5,2582.3 L1074,2588.1 M1087.7,2595.8 L1089.2,2594.5 L1090.7,2593 L1092.2,2591.4 L1093.8,2589.6 L1095.3,2587.7 L1096.8,2585.6 L1098.3,2583.5 L1099.8,2581.3 L1101.3,2579 L1102.8,2576.7 L1104.4,2573.8 L1105.9,2570.2 L1107.4,2565.9 L1108.9,2561 L1110.4,2555.7 L1111.9,2549.9 L1113.4,2543.8 L1114.9,2537.4 L1116.5,2530.9 L1118,2524.3 L1119.5,2517.7 L1121,2511.2 M1127,2486.9 L1128.5,2480.6 L1130,2474.2 L1131.5,2467.8 L1133,2461.2 L1134.5,2454.7 L1136,2448.2 L1137.5,2441.7 L1139,2435.3 L1140.6,2429 L1142.1,2422.9 L1143.6,2416.9 L1145.1,2411.2 L1146.6,2405.6 L1148.1,2400.1 L1149.6,2394.6 L1151.1,2389.2 L1152.6,2383.8 L1154.1,2378.5 L1155.6,2373.3 L1157.1,2368.2 L1158.6,2363.2 L1160.1,2358.3 L1161.6,2353.5 L1163.1,2348.8 L1164.6,2344.3 M1171.9,2324.2 L1173.4,2320.5 L1174.9,2316.9 L1176.4,2313.3 L1177.9,2309.9 L1179.5,2306.5 L1181,2303.2 L1182.5,2299.9 L1184,2296.6 L1185.5,2293.4 L1187,2290.2 L1188.5,2286.9 L1190,2283.7 L1191.5,2280.4 L1193,2277.2 L1194.5,2273.9 L1196,2270.6 L1197.5,2267.4 L1199,2264.2 L1200.5,2261 L1202,2257.9 L1203.5,2254.9 L1205,2251.9 L1206.5,2249 M1216,2233.3 L1217.6,2231 L1219.1,2228.8 L1220.7,2226.7 L1222.2,2224.6 L1223.8,2222.6 L1225.3,2220.6 L1226.8,2218.6 L1228.4,2216.7 L1229.9,2214.8 L1231.5,2212.8 L1233,2210.9 L1234.6,2209 L1236.1,2207.2 L1237.7,2205.4 L1239.2,2203.6 L1240.7,2201.8 L1242.3,2200.1 L1243.8,2198.4 L1245.4,2196.6 L1246.9,2194.9 L1248.5,2193.2 M1259.8,2180.4 L1261.3,2178.6 L1262.8,2176.8 L1264.3,2175 L1265.8,2173.3 L1267.3,2171.6 L1268.8,2169.9 L1270.3,2168.3 L1271.8,2166.7 L1273.3,2165.2 L1274.9,2163.8 L1276.4,2162.4 L1277.9,2161.1 L1279.4,2159.7 L1280.9,2158.4 L1282.4,2157.1 L1283.9,2155.8 L1285.4,2154.6 L1286.9,2153.4 L1288.4,2152.2 L1289.9,2151.2 M1304.6,2145 L1306.2,2144.7 L1307.7,2144.3 L1309.3,2144 L1310.8,2143.7 L1312.4,2143.3 L1314,2143 L1315.5,2142.6 L1317.1,2142.1 L1318.6,2141.6 L1320.2,2141.1 L1321.8,2140.4 L1323.3,2139.7 L1324.9,2138.9 L1326.4,2138 L1328,2137.1 L1329.6,2136.3 L1331.1,2135.4 L1332.7,2134.6 M1347.7,2129.6 L1349.3,2129.3 L1350.8,2129 L1352.3,2128.7 L1353.9,2128.4 L1355.4,2128.2 L1356.9,2127.9 L1358.5,2127.7 L1360,2127.4 L1361.5,2127.2 L1363.1,2127 L1364.6,2126.8 L1366.1,2126.6 L1367.7,2126.4 L1369.2,2126.2 L1370.7,2126.1 L1372.3,2125.9 L1373.8,2125.7 L1375.4,2125.6 M1390.8,2123.2 L1392.3,2122.9 L1393.9,2122.6 L1395.4,2122.3 L1396.9,2122 L1398.5,2121.7 L1400,2121.5 L1401.5,2121.2 L1403,2121 L1404.6,2120.9 L1406.1,2120.7 L1407.6,2120.6 L1409.1,2120.5 L1410.7,2120.4 L1412.2,2120.3 L1413.7,2120.3 L1415.2,2120.2 L1416.8,2120.1 L1418.3,2120 M1433.8,2118.4 L1435.4,2118.1 L1436.9,2117.8 L1438.4,2117.4 L1439.9,2117.1 L1441.5,2116.8 L1443,2116.5 L1444.5,2116.1 L1446.1,2115.8 L1447.6,2115.5 L1449.1,2115.3 L1450.6,2115 L1452.2,2114.7 L1453.7,2114.4 L1455.2,2114 L1456.7,2113.7 L1458.3,2113.4 L1459.8,2113.1 L1461.3,2112.8 M1476.8,2110.8 L1478.3,2110.6 L1479.9,2110.5 L1481.4,2110.4 L1482.9,2110.2 L1484.4,2110.1 L1486,2110 L1487.5,2109.8 L1489,2109.7 L1490.6,2109.5 L1492.1,2109.4 L1493.6,2109.3 L1495.1,2109.1 L1496.7,2109 L1498.2,2108.9 L1499.7,2108.7 L1501.2,2108.6 L1502.8,2108.5 L1504.3,2108.3 M1519.8,2106.2 L1521.3,2105.9 L1522.8,2105.6 L1524.4,2105.3 L1525.9,2105 L1527.4,2104.6 L1528.9,2104.3 L1530.5,2104 L1532,2103.7 L1533.5,2103.4 L1535,2103.1 L1536.6,2102.8 L1538.1,2102.4 L1539.6,2102 L1541.1,2101.6 L1542.7,2101.2 L1544.2,2100.9 L1545.7,2100.5 L1547.2,2100.2 M1562.8,2099.6 L1564.3,2099.7 L1565.9,2099.8 L1567.4,2099.9 L1568.9,2100 L1570.4,2100.2 L1571.9,2100.3 L1573.5,2100.4 L1575,2100.5 L1576.5,2100.6 L1578,2100.7 L1579.6,2100.8 L1581.1,2100.9 L1582.6,2101 L1584.1,2101.2 L1585.6,2101.3 L1587.2,2101.4 L1588.7,2101.5 L1590.2,2101.6 M1605.8,2101.6 L1607.3,2101.5 L1608.8,2101.4 L1610.4,2101.3 L1611.9,2101.2 L1613.4,2101 L1614.9,2100.9 L1616.4,2100.8 L1618,2100.7 L1619.5,2100.6 L1621,2100.5 L1622.5,2100.4 L1624.1,2100.3 L1625.6,2100.2 L1627.1,2100 L1628.6,2099.9 L1630.1,2099.8 L1631.7,2099.7 L1633.2,2099.6 M1648.8,2099.4 L1650.3,2099.4 L1651.8,2099.4 L1653.3,2099.5 L1654.9,2099.5 L1656.4,2099.5 L1657.9,2099.6 L1659.4,2099.6 L1660.9,2099.6 L1662.5,2099.7 L1664,2099.7 L1665.5,2099.7 L1667,2099.7 L1668.6,2099.8 L1670.1,2099.8 L1671.6,2099.8 L1673.1,2099.9 L1674.6,2099.9 L1676.2,2099.9 M1691.8,2099.6 L1693.3,2099.4 L1694.8,2099.3 L1696.3,2099.1 L1697.9,2098.9 L1699.4,2098.7 L1700.9,2098.5 L1702.4,2098.4 L1703.9,2098.2 L1705.5,2098 L1707,2097.9 L1708.5,2097.8 L1710,2097.6 L1711.6,2097.5 L1713.1,2097.4 L1714.6,2097.2 L1716.1,2097.1 L1717.6,2097 L1719.2,2096.8 M1734.7,2095.2 L1736.2,2095 L1737.8,2094.8 L1739.3,2094.6 L1740.8,2094.5 L1742.3,2094.3 L1743.8,2094.1 L1745.4,2093.9 L1746.9,2093.7 L1748.4,2093.5 L1749.9,2093.3 L1751.5,2093.1 L1753,2092.9 L1754.5,2092.6 L1756,2092.4 L1757.6,2092.1 L1759.1,2091.9 L1760.6,2091.7 L1762.1,2091.5 M1777.7,2091.1 L1779.2,2091.2 L1780.8,2091.3 L1782.3,2091.3 L1783.8,2091.4 L1785.3,2091.5 L1786.8,2091.6 L1788.4,2091.7 L1789.9,2091.8 L1791.4,2091.9 L1792.9,2091.9 L1794.5,2092 L1796,2092.1 L1797.5,2092.1 L1799,2092.2 L1800.5,2092.3 L1802.1,2092.3 L1803.6,2092.4 L1805.1,2092.5" stroke="#ff00ff" stroke-width="12.6"/>
<path d="M308.6,2075.5 L326.2,2105.9 L291.1,2105.9 ZM351.6,2072.9 L369.1,2103.3 L334,2103.3 ZM394.6,2071.1 L412.1,2101.5 L377,2101.5 ZM437.5,2075.5 L455.1,2105.9 L420,2105.9 ZM480.5,2072.9 L498.1,2103.3 L463,2103.3 ZM523.5,2064.9 L541,2095.3 L505.9,2095.3 ZM566.5,2064.9 L584,2095.3 L548.9,2095.3 ZM609.5,2061.6 L627,2092 L591.9,2092 ZM652.4,2061.5 L670,2091.9 L634.9,2091.9 ZM695.4,2046.6 L713,2077 L677.9,2077 ZM738.4,2038.1 L755.9,2068.5 L720.9,2068.5 ZM781.4,2015.7 L798.9,2046.1 L763.8,2046.1 ZM824.4,1969 L841.9,1999.4 L806.8,1999.4 ZM867.3,1888.4 L884.9,1918.8 L849.8,1918.8 ZM910.3,1746.7 L927.9,1777.1 L892.8,1777.1 ZM953.3,1595.7 L970.8,1626.1 L935.8,1626.1 ZM996.3,1760.7 L1013.8,1791.1 L978.7,1791.1 ZM1037.4,2274.7 L1055,2305.1 L1019.9,2305.1 ZM1080,2578.7 L1097.5,2609.1 L1062.5,2609.1 ZM1124,2478.7 L1141.5,2509.1 L1106.5,2509.1 ZM1168.2,2313.7 L1185.7,2344.1 L1150.6,2344.1 ZM1211.2,2220.5 L1228.7,2250.9 L1193.6,2250.9 ZM1254.2,2166.6 L1271.7,2197 L1236.6,2197 ZM1297.1,2126.9 L1314.7,2157.3 L1279.6,2157.3 ZM1340.1,2111.1 L1357.7,2141.5 L1322.6,2141.5 ZM1383.1,2104.3 L1400.6,2134.7 L1365.5,2134.7 ZM1426.1,2099.2 L1443.6,2129.6 L1408.5,2129.6 ZM1469.1,2091.3 L1486.6,2121.7 L1451.5,2121.7 ZM1512,2087.2 L1529.6,2117.6 L1494.5,2117.6 ZM1555,2079 L1572.6,2109.4 L1537.5,2109.4 ZM1598,2081.6 L1615.5,2112 L1580.5,2112 ZM1641,2079 L1658.5,2109.4 L1623.4,2109.4 ZM1684,2079.7 L1701.5,2110.1 L1666.4,2110.1 ZM1726.9,2075.8 L1744.5,2106.2 L1709.4,2106.2 ZM1769.9,2070.6 L1787.5,2101 L1752.4,2101 ZM1812.9,2072.5 L1830.5,2102.9 L1795.4,2102.9 Z" fill="#fff" stroke="#ff00ff" stroke-width="6.4" stroke-linejoin="miter"/>
</g>
<g fill="none" stroke-linecap="round" stroke-width="12.6">
<path d="M1044,1536.3 H1222.5" stroke="#ff0000"/>
<path d="M1044,1634.8 H1105.5 M1160.5,1634.8 H1222.5" stroke="#ff00ff"/>
<path d="M1044,1732.8 H1105.5 M1160.5,1732.8 H1222.5" stroke="#0000ff"/>
</g>
<path d="M1132.2,1614.5 L1149.8,1644.9 L1114.7,1644.9 Z" fill="#fff" stroke="#ff00ff" stroke-width="6.4" stroke-linejoin="miter"/>
<rect x="1118.2" y="1718.8" width="28.0" height="28.0" fill="#fff" stroke="#0000ff" stroke-width="7.0"/>
<rect x="307" y="1483" width="76.3" height="129" fill="#ff0000"/>
<text x="306.7" y="1587" font-size="126" text-anchor="start" fill="#fff" font-weight="bold">b</text>
<g stroke="#161616" stroke-width="5.5" fill="none" stroke-linecap="butt">
<path d="M286,1484.6 H1821.5"/>
<path d="M286,2699.4 H1821.5"/>
<path d="M309.5,1482.1 V2711.4"/>
<path d="M1819,1482.1 V2722.4"/>
<path d="M309.5,1637.1 H297.5 M309.5,1788.9 H286 M309.5,1940.6 H297.5 M309.5,2092.3 H286 M309.5,2244 H297.5 M309.5,2395.8 H286 M309.5,2547.5 H297.5"/>
<path d="M417.3,2699.4 V2711.4 M525.1,2699.4 V2722.4 M633,2699.4 V2711.4 M740.8,2699.4 V2711.4 M848.6,2699.4 V2711.4 M956.4,2699.4 V2722.4 M1064.2,2699.4 V2711.4 M1172.1,2699.4 V2711.4 M1279.9,2699.4 V2711.4 M1387.7,2699.4 V2722.4 M1495.5,2699.4 V2711.4 M1603.4,2699.4 V2711.4 M1711.2,2699.4 V2711.4"/>
</g>
<g font-size="80" fill="#000">
<text x="269" y="1508.9" text-anchor="end">1.0</text>
<text x="269" y="1812.4" text-anchor="end">0.5</text>
<text x="269" y="2115.8" text-anchor="end">0.0</text>
<text x="269" y="2419.2" text-anchor="end">-0.5</text>
<text x="269" y="2722.7" text-anchor="end">-1.0</text>
<text x="525.1" y="2804" text-anchor="middle">332</text>
<text x="956.4" y="2804" text-anchor="middle">334</text>
<text x="1387.7" y="2804" text-anchor="middle">336</text>
<text x="1819" y="2804" text-anchor="middle">338</text>
<text id="b_xt" x="717.5" y="2930" text-anchor="start" textLength="693.9" lengthAdjust="spacing">Magnetic field (mT)</text>
<text id="b_yt" transform="translate(101.3,2437) rotate(-90)" text-anchor="start" textLength="693.98" lengthAdjust="spacing">EPR intensity (n.u.)</text>
<text id="b_l1" x="1244.5" y="1564.4" text-anchor="start" fill="#ff0000" textLength="270.26" lengthAdjust="spacing">Au NPs</text>
<text id="b_l2" x="1244.5" y="1661.7" text-anchor="start" fill="#ff00ff" textLength="560.27" lengthAdjust="spacing">AuSi NHs (100)</text>
<text id="b_l3" x="1244.5" y="1760.2" text-anchor="start" fill="#0000ff" textLength="560.27" lengthAdjust="spacing">AuSi NHs (150)</text>
<text id="b_T" x="1491" y="2640.3" text-anchor="start" font-size="74" textLength="285.31" lengthAdjust="spacing">T=100 K</text>
</g>
</g>
</g>
</svg>
</body></html>
